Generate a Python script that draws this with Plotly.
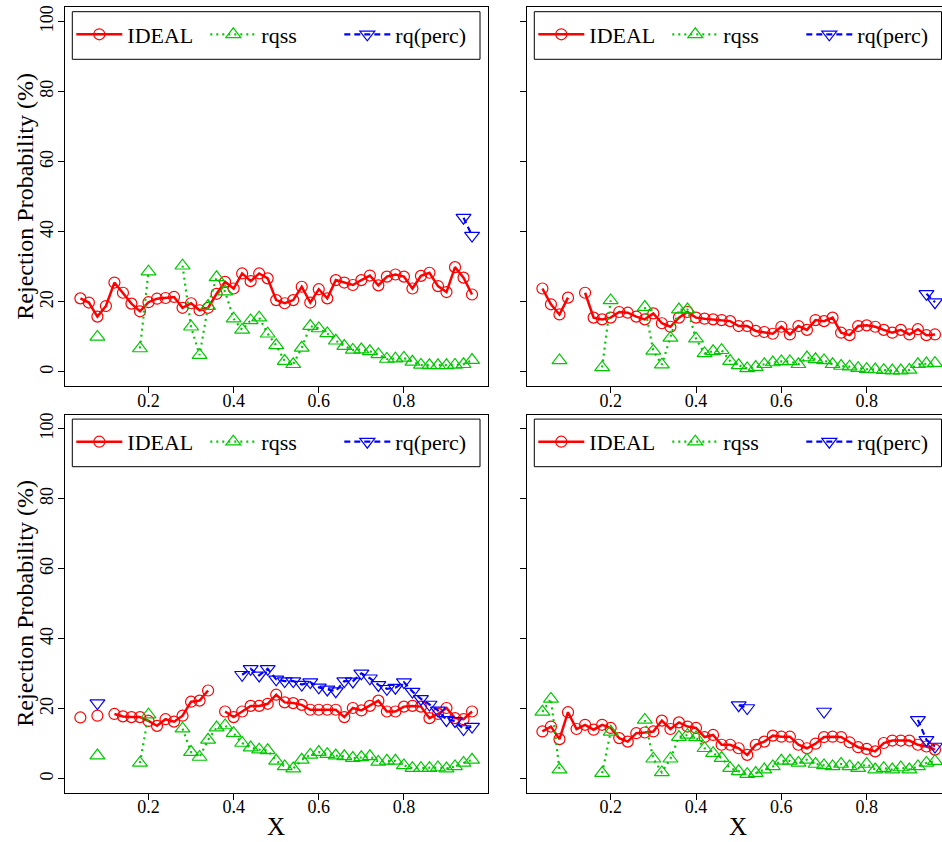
import plotly.graph_objects as go

# Evaluation grid
x_grid = [0.04, 0.06, 0.08, 0.10, 0.12, 0.14, 0.16, 0.18, 0.20, 0.22, 0.24, 0.26,
          0.28, 0.30, 0.32, 0.34, 0.36, 0.38, 0.40, 0.42, 0.44, 0.46, 0.48, 0.50,
          0.52, 0.54, 0.56, 0.58, 0.60, 0.62, 0.64, 0.66, 0.68, 0.70, 0.72, 0.74,
          0.76, 0.78, 0.80, 0.82, 0.84, 0.86, 0.88, 0.90, 0.92, 0.94, 0.96]
N = None

# Panel A (top left)
ideal_a = [21.0, 19.8, 15.8, 18.8, 25.5, 22.6, 19.5, 17.3, 19.9, 20.9, 21.1, 21.4,
           18.3, 19.6, 17.6, 18.3, 22.3, 25.7, 23.8, 28.1, 25.9, 28.1, 26.7, 20.5,
           19.6, 20.5, 24.3, 19.8, 23.6, 21.0, 26.2, 25.5, 24.8, 26.2, 27.5, 24.7,
           27.2, 27.8, 27.2, 23.8, 27.4, 28.3, 24.5, 22.8, 29.9, 26.9, 22.1]
rqss_a = [N, N, 10.0, N, N, N, N, 6.7, 28.6, N, N, N,
          30.3, 12.9, 4.8, 18.8, 27.0, 22.9, 15.2, 12.0, 14.7, 15.5, 10.9, 7.6,
          3.1, 2.2, 6.9, 13.1, 12.4, 11.0, 8.9, 7.4, 6.3, 6.4, 5.9, 5.0,
          3.7, 3.8, 4.0, 2.9, 2.0, 1.9, 1.9, 1.9, 2.0, 2.2, 3.4]
rq_a = [N] * 45 + [44.0, 38.9]

# Panel B (top right)
ideal_b = [23.8, 19.3, 16.4, 21.2, N, 22.6, 15.5, 15.0, 15.5, 17.1, 16.9, 15.8,
           15.0, 16.7, 13.9, 12.9, 15.5, 17.1, 15.5, 15.2, 15.0, 14.8, 14.5, 13.1,
           13.1, 11.7, 11.4, 10.9, 12.9, 10.7, 13.1, 12.0, 14.8, 14.5, 15.5, 11.2,
           10.5, 13.1, 13.3, 12.9, 12.0, 11.2, 12.0, 10.7, 12.2, 10.5, 10.7]
rqss_b = [N, N, 3.3, N, N, N, N, 1.3, 20.4, N, N, N,
          18.5, 6.0, 2.1, 9.7, 17.8, 17.8, 9.5, 5.3, 5.9, 6.2, 3.1, 1.9,
          1.0, 1.4, 2.2, 2.7, 3.0, 3.0, 2.2, 4.1, 3.6, 3.3, 2.2, 1.7,
          1.5, 1.1, 0.8, 0.7, 0.5, 0.4, 0.4, 0.6, 2.2, 2.4, 2.5]
rq_b = [N] * 45 + [22.3, 19.9]

# Panel C (bottom left)
ideal_c = [17.5, N, 18.0, N, 18.5, 17.8, 17.6, 17.6, 16.5, 15.1, 17.0, 16.3,
           18.0, 22.0, 22.3, 25.2, N, 19.2, 17.6, 19.2, 20.8, 20.8, 21.4, 24.0,
           21.8, 21.6, 21.1, 19.7, 19.7, 19.7, 19.7, 17.6, 20.2, 19.5, 20.8, 22.3,
           19.2, 19.2, 20.6, 20.8, 20.6, 17.3, 18.5, 20.2, 17.3, 17.0, 19.2]
rqss_c = [N, N, 6.6, N, N, N, N, 4.5, 18.3, N, N, N,
          14.3, 7.6, 6.2, 11.1, 14.6, 15.2, 13.0, 10.2, 8.9, 8.3, 8.1, 5.1,
          3.5, 2.9, 5.4, 6.8, 7.6, 7.0, 6.6, 6.4, 5.9, 6.1, 6.4, 4.8,
          5.1, 5.1, 3.8, 3.0, 3.0, 3.0, 3.2, 2.9, 3.5, 4.5, 5.4]
rq_c = [N, N, 21.6, N, N, N, N, N, N, N, N, N,
        N, N, N, N, N, N, N, 29.7, 31.4, 29.5, 31.4, 28.4,
        27.9, 27.9, 26.9, 27.6, 26.1, 25.5, 25.0, 27.9, 27.8, 30.1, 28.7, 26.8,
        25.7, 26.0, 27.6, 24.9, 22.8, 21.2, 19.5, 16.8, 16.5, 14.2, 14.9]

# Panel D (bottom right)
ideal_d = [13.5, 14.9, 11.3, 19.0, 14.2, 15.4, 14.0, 15.4, 14.5, 11.6, 10.6, 13.0,
           13.2, 13.5, 16.6, 14.2, 16.1, 14.9, 14.5, 11.9, 12.5, 9.7, 9.7, 8.7,
           6.8, 9.7, 10.6, 12.3, 12.0, 12.0, 9.7, 8.7, 10.0, 11.9, 12.0, 11.9,
           10.4, 9.0, 8.5, 7.8, 10.2, 10.9, 10.9, 10.9, 9.7, 9.2, 8.3]
rqss_d = [19.1, 22.8, 2.6, N, N, N, N, 1.6, 13.4, N, N, N,
          16.8, 5.7, 1.8, 5.7, 11.9, 12.5, 11.8, 8.7, 7.3, 5.9, 3.0, 2.1,
          1.3, 1.6, 2.6, 3.5, 5.1, 5.1, 4.5, 5.4, 4.2, 3.8, 3.5, 4.2,
          3.5, 3.0, 4.2, 2.6, 3.0, 2.6, 3.2, 2.6, 3.5, 4.5, 5.0]
rq_d = [N, N, N, N, N, N, N, N, N, N, N, N,
        N, N, N, N, N, N, N, N, N, N, N, 21.0,
        20.2, N, N, N, N, N, N, N, N, 19.2, N, N,
        N, N, N, N, N, N, N, N, 16.8, 11.1, 9.2]

series_names = ["IDEAL", "rqss", "rq(perc)"]
y_ticks = [0, 20, 40, 60, 80, 100]
x_ticks = [0.2, 0.4, 0.6, 0.8]
x_tick_text = ["0.2", "0.4", "0.6", "0.8"]

W, H = 942, 842
FONT = "Liberation Serif"
RED, GREEN, BLUE = "#FF0000", "#00C800", "#0000FF"


def px(v):
    return v / W


def py(v):
    return 1 - v / H


# panel boxes in pixels: (left, right, top, bottom); flags: left column, bottom row
panels = [
    ("", (64.7, 487.7, 7.3, 386.0), [0.0032, 0.9968], (ideal_a, rqss_a, rq_a), True, False),
    ("2", (526.7, 942.0, 7.3, 386.0), [0.0032, 0.9765], (ideal_b, rqss_b, rq_b), False, False),
    ("3", (64.7, 487.7, 414.7, 792.7), [0.0032, 0.9968], (ideal_c, rqss_c, rq_c), True, True),
    ("4", (526.7, 942.0, 414.7, 792.7), [0.0032, 0.9765], (ideal_d, rqss_d, rq_d), False, True),
]

fig = go.Figure()
shapes = []
annotations = []
layout = {}

for sfx, (l, r, t, b), xr, (ideal, rqss, rq), is_left, is_bottom in panels:
    xa = "x" + sfx
    ya = "y" + sfx
    leg = "legend" + sfx
    styles = [
        dict(color=RED, width=2.5, dash="solid", sym="circle-open", size=11),
        dict(color=GREEN, width=2.2, dash="2px,4px", sym="triangle-up-open", size=13),
        dict(color=BLUE, width=2.2, dash="6px,4px", sym="triangle-down-open", size=13),
    ]
    for name, vals, st in zip(series_names, (ideal, rqss, rq), styles):
        fig.add_trace(go.Scatter(
            x=x_grid, y=vals, name=name, mode="lines+markers",
            xaxis=xa, yaxis=ya, legend=leg, cliponaxis=False,
            line=dict(color=st["color"], width=st["width"], dash=st["dash"]),
            marker=dict(symbol=st["sym"], size=st["size"], color=st["color"],
                        line=dict(width=1.2, color=st["color"])),
            connectgaps=False,
        ))

    layout["xaxis" + sfx] = dict(
        domain=[px(l), px(r)], range=xr, anchor=ya,
        tickvals=x_ticks, ticktext=x_tick_text, ticks="outside", ticklen=6,
        tickwidth=1, tickcolor="black", showline=True, linecolor="black",
        linewidth=1, mirror=True, showgrid=False, zeroline=False,
        ticklabelstandoff=-8,
        tickfont=dict(family=FONT, size=18, color="black"),
    )
    layout["yaxis" + sfx] = dict(
        domain=[py(b), py(t)], range=[-4, 104], anchor=xa,
        tickvals=y_ticks, ticks="outside", ticklen=6, tickwidth=1,
        tickcolor="black", showline=True, linecolor="black", linewidth=1,
        mirror=is_left, showgrid=False, zeroline=False,
        showticklabels=is_left, tickangle=-90, ticklabelstandoff=-2,
        tickfont=dict(family=FONT, size=18, color="black"),
    )

    # legend frame and entries
    lx0 = l + 7.6
    lx1 = min(lx0 + 407.7, W - 0.5)
    ly0, ly1 = t + 4.4, t + 52.0
    shapes.append(dict(type="rect", xref="paper", yref="paper",
                       x0=px(lx0), x1=px(lx1), y0=py(ly1), y1=py(ly0),
                       line=dict(color="black", width=1), fillcolor="white",
                       layer="below"))
    layout[leg] = dict(
        orientation="h", x=px(lx0 - 1), xanchor="left",
        y=py((ly0 + ly1) / 2 - 1), yanchor="middle",
        bgcolor="rgba(0,0,0,0)", borderwidth=0,
        font=dict(family=FONT, size=22, color="black"),
        entrywidth=73, entrywidthmode="pixels", itemwidth=46,
        itemclick=False, itemdoubleclick=False,
    )

    # axis titles
    if is_bottom:
        cx = (l + (r if is_left else 949.6)) / 2
        annotations.append(dict(text="X", xref="paper", yref="paper",
                                x=px(cx), y=py(b + 34), xanchor="center",
                                yanchor="middle", showarrow=False,
                                font=dict(family=FONT, size=25, color="black")))
    if is_left:
        annotations.append(dict(text="Rejection Probability (%)", xref="paper",
                                yref="paper", x=px(25), y=py((t + b) / 2),
                                xanchor="center", yanchor="middle",
                                textangle=-90, showarrow=False,
                                font=dict(family=FONT, size=24, color="black")))

fig.update_layout(
    width=W, height=H, margin=dict(l=0, r=0, t=0, b=0, autoexpand=False),
    paper_bgcolor="white", plot_bgcolor="white",
    shapes=shapes, annotations=annotations, showlegend=True,
    **layout,
)

fig.write_html("out.html")
